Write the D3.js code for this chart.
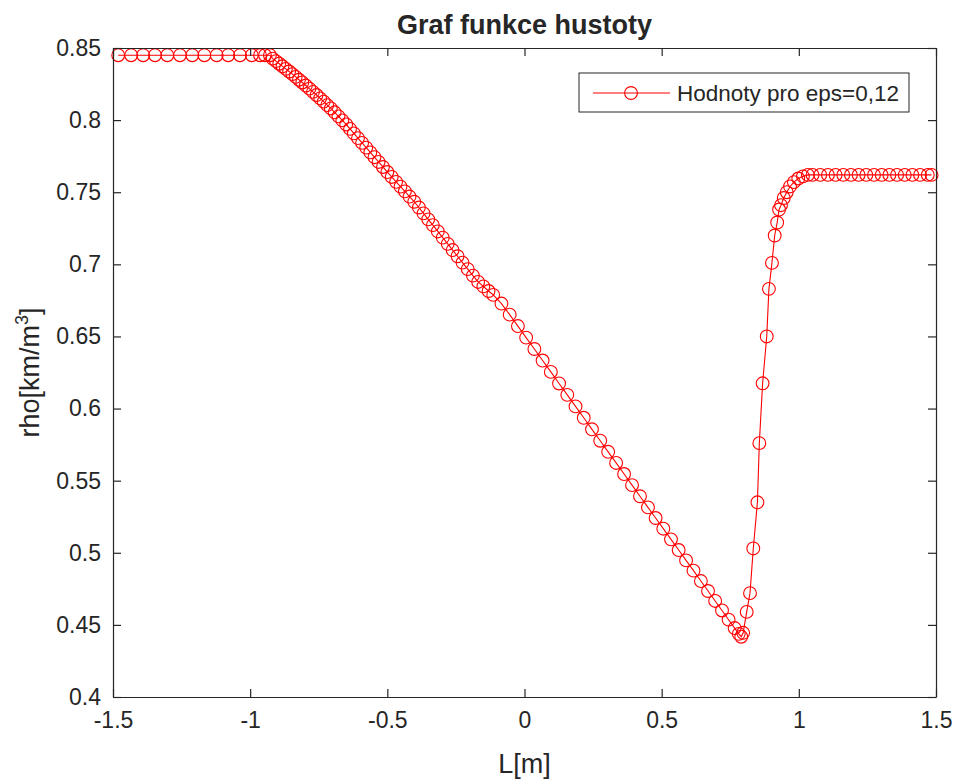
<!DOCTYPE html>
<html><head><meta charset="utf-8">
<script src="https://cdn.jsdelivr.net/npm/d3@7"></script>
<style>body{margin:0;background:#fff}svg{display:block}text{font-family:"Liberation Sans",Arial,sans-serif;fill:#262626}</style>
</head><body>
<svg id="c" width="955" height="780"></svg>
<script>
const xValues = [
 -1.481,-1.434,-1.390,-1.347,-1.302,-1.256,-1.211,-1.167,-1.122,-1.080,-1.037,-0.994,-0.964,-0.946,-0.928,
 -0.918,-0.906,-0.894,-0.882,-0.870,-0.858,-0.846,-0.834,-0.822,-0.810,-0.797,-0.784,-0.771,-0.758,-0.745,
 -0.732,-0.719,-0.706,-0.692,-0.678,-0.664,-0.650,-0.636,-0.622,-0.607,-0.592,-0.577,-0.562,-0.547,-0.532,
 -0.516,-0.500,-0.484,-0.468,-0.452,-0.436,-0.419,-0.402,-0.385,-0.368,-0.351,-0.334,-0.316,-0.298,-0.280,
 -0.262,-0.244,-0.226,-0.207,-0.188,-0.169,-0.150,-0.131,
 -0.114,-0.084,-0.054,-0.024,0.006,0.036,0.066,0.096,0.126,0.156,0.186,0.216,0.246,0.276,0.305,0.334,
 0.363,0.392,0.421,0.450,0.478,0.506,0.534,0.562,0.589,0.616,0.643,0.669,0.695,0.720,0.744,0.766,0.781,0.790,
 0.797,0.810,0.822,0.834,0.849,0.856,0.868,0.883,0.891,0.902,0.912,0.921,0.928,0.935,0.945,0.956,0.968,0.982,0.998,1.015,1.033,
 1.050,1.078,1.106,1.134,1.162,1.190,1.218,1.246,1.274,1.302,1.330,1.358,1.386,1.414,1.442,1.470,1.484
];
const rhoValues = [
 0.845,0.845,0.845,0.845,0.845,0.845,0.845,0.845,0.845,0.845,0.845,0.845,0.845,0.845,0.845,
 0.8426,0.8409,0.8391,0.8373,0.8355,0.8337,0.8319,0.8300,0.8280,0.8261,0.8240,0.8218,0.8196,0.8174,0.8151,
 0.8128,0.8104,0.8081,0.8054,0.8026,0.7998,0.7970,0.7939,0.7908,0.7875,0.7842,0.7809,0.7776,0.7743,0.7710,
 0.7675,0.7640,0.7606,0.7572,0.7539,0.7506,0.7470,0.7434,0.7394,0.7353,0.7312,0.7272,0.7228,0.7185,0.7142,
 0.7099,0.7056,0.7012,0.6967,0.6922,0.6878,0.6847,0.6815,
 0.6788,0.6728,0.6651,0.6572,0.6492,0.6413,0.6333,0.6254,0.6174,0.6095,0.6015,0.5936,0.5856,0.5777,0.5700,0.5623,
 0.5546,0.5469,0.5392,0.5315,0.5241,0.5167,0.5093,0.5019,0.4947,0.4876,0.4804,0.4735,0.4666,0.4600,0.4536,0.4478,0.4438,0.4418,
 0.4445,0.459,0.472,0.503,0.535,0.576,0.6175,0.650,0.683,0.701,0.720,0.729,0.738,0.741,0.746,0.750,0.754,0.757,0.7595,0.761,0.762,
 0.762,0.762,0.762,0.762,0.762,0.762,0.762,0.762,0.762,0.762,0.762,0.762,0.762,0.762,0.762,0.762,0.762
];
const xTicks = [-1.5,-1,-0.5,0,0.5,1,1.5];
const xTickLabels = ["-1.5","-1","-0.5","0","0.5","1","1.5"];
const yTicks = [0.4,0.45,0.5,0.55,0.6,0.65,0.7,0.75,0.8,0.85];
const yTickLabels = ["0.4","0.45","0.5","0.55","0.6","0.65","0.7","0.75","0.8","0.85"];
const titleText = "Graf funkce hustoty";
const xLabel = "L[m]";
const legendLabel = "Hodnoty pro eps=0,12";

const svg = d3.select("#c");
const L = 113, R = 936, T = 48, B = 697;
const x = d3.scaleLinear().domain([-1.5,1.5]).range([L,R]);
const y = d3.scaleLinear().domain([0.4,0.85]).range([B,T]);
const axisCol = "#262626";
const red = "#ff0000";
const data = xValues.map((v,i)=>({x:v,y:rhoValues[i]}));

// plot line + markers
const g = svg.append("g");
g.append("path").datum(data)
 .attr("d", d3.line().x(d=>x(d.x)).y(d=>y(d.y)))
 .attr("fill","none").attr("stroke",red).attr("stroke-width",1.1);
g.selectAll("circle").data(data).join("circle")
 .attr("cx",d=>x(d.x)).attr("cy",d=>y(d.y)).attr("r",6.4)
 .attr("fill","none").attr("stroke",red).attr("stroke-width",1.1);

// axes
const tl = 8;
const xb = svg.append("g").attr("transform",`translate(0,${B})`)
 .call(d3.axisBottom(x).tickValues(xTicks).tickFormat((d,i)=>xTickLabels[i]).tickSizeInner(-tl).tickSizeOuter(0).tickPadding(15));
const xt = svg.append("g").attr("transform",`translate(0,${T})`)
 .call(d3.axisTop(x).tickValues(xTicks).tickFormat("").tickSizeInner(-tl).tickSizeOuter(0));
const yl = svg.append("g").attr("transform",`translate(${L},0)`)
 .call(d3.axisLeft(y).tickValues(yTicks).tickFormat((d,i)=>yTickLabels[i]).tickSizeInner(-tl).tickSizeOuter(0).tickPadding(12));
const yr = svg.append("g").attr("transform",`translate(${R},0)`)
 .call(d3.axisRight(y).tickValues(yTicks).tickFormat("").tickSizeInner(-tl).tickSizeOuter(0));
[xb,xt,yl,yr].forEach(a=>{
 a.select(".domain").attr("stroke",axisCol).attr("stroke-width",1.2);
 a.selectAll(".tick line").attr("stroke",axisCol).attr("stroke-width",1.2);
 a.selectAll("text").attr("fill",axisCol).style("font-size","23px").style("font-family","'Liberation Sans',Arial,sans-serif");
});

// title and labels
svg.append("text").attr("x",(L+R)/2).attr("y",34).attr("text-anchor","middle")
 .style("font-size","27px").style("font-weight","bold").text(titleText);
svg.append("text").attr("x",(L+R)/2).attr("y",773).attr("text-anchor","middle")
 .style("font-size","27px").text(xLabel);
const yt = svg.append("text").attr("transform",`translate(39,${(T+B)/2}) rotate(-90)`).attr("text-anchor","middle").style("font-size","27px");
yt.append("tspan").text("rho[km/m");
yt.append("tspan").attr("dy",-11).style("font-size","18px").text("3");
yt.append("tspan").attr("dy",11).text("]");

// legend
const lg = svg.append("g");
lg.append("rect").attr("x",579).attr("y",73).attr("width",330).attr("height",39)
 .attr("fill","#fff").attr("stroke",axisCol).attr("stroke-width",1);
lg.append("line").attr("x1",593).attr("x2",670).attr("y1",93).attr("y2",93).attr("stroke",red).attr("stroke-width",1.1);
lg.append("circle").attr("cx",631).attr("cy",93).attr("r",6.4).attr("fill","none").attr("stroke",red).attr("stroke-width",1.1);
lg.append("text").attr("x",677).attr("y",101).style("font-size","22.5px").text(legendLabel);
</script>
</body></html>
